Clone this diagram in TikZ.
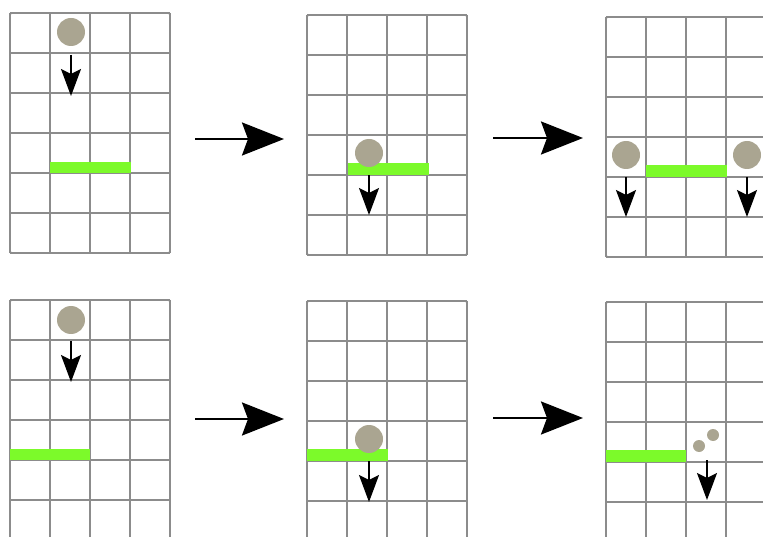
\documentclass[tikz,border=0pt]{standalone}
\usetikzlibrary{arrows.meta}
\definecolor{gridgray}{RGB}{140,140,140}
\definecolor{ballgray}{RGB}{170,165,145}
\definecolor{ledgegreen}{RGB}{124,250,42}
\begin{document}
\begin{tikzpicture}[
                x=1pt, y=-1pt,
                cell/.style={draw=gridgray, line width=1.6pt},
                ball/.style={circle, fill=ballgray, inner sep=0pt, minimum size=28pt},
                crumb/.style={circle, fill=ballgray, inner sep=0pt, minimum size=12pt},
                ledge/.style={fill=ledgegreen},
                fall/.style={-{Stealth[length=27pt, width=20pt, inset=5pt]}, line width=1.8pt},
                advance/.style={-{Stealth[length=42pt, width=33pt, inset=6pt]}, line width=2.5pt},
            ]
            \useasboundingbox (0,0) rectangle (763,537);
            \clip (0,0) rectangle (763,537);
            % the six boards
            \foreach \gx/\gy/\gn in {10/13/1, 307/15/2, 606/17/3, 10/300/4, 307/301/5, 606/302/6} {
                \begin{scope}[shift={(\gx,\gy)}]
                    \coordinate (g\gn) at (0,0);
                    \draw[cell] (0,0) grid[step=40pt] (160,240);
                    \draw[cell, rounded corners=2pt] (0,0) rectangle (160,240);
                \end{scope}
            }
            % top row
            \fill[ledge] ([shift={(40,149)}]g1) rectangle ([shift={(121,160)}]g1);
            \node[ball] (b1) at ([shift={(61,19)}]g1) {};
            \draw[fall] (b1.center) ++(0,23) -- ++(0,41);
            \fill[ledge] ([shift={(41,148)}]g2) rectangle ([shift={(122,160)}]g2);
            \node[ball] (b2) at ([shift={(62,138)}]g2) {};
            \draw[fall] (b2.center) ++(0,22) -- ++(0,40);
            \fill[ledge] ([shift={(40,148)}]g3) rectangle ([shift={(121,160)}]g3);
            \node[ball] (b3l) at ([shift={(20,138)}]g3) {};
            \node[ball] (b3r) at ([shift={(141,138)}]g3) {};
            \draw[fall] (b3l.center) ++(0,22) -- ++(0,40);
            \draw[fall] (b3r.center) ++(0,22) -- ++(0,40);
            % bottom row
            \fill[ledge] ([shift={(0,149)}]g4) rectangle ([shift={(80,160)}]g4);
            \node[ball] (b4) at ([shift={(61,20)}]g4) {};
            \draw[fall] (b4.center) ++(0,21) -- ++(0,41);
            \fill[ledge] ([shift={(0,148)}]g5) rectangle ([shift={(81,160)}]g5);
            \node[ball] (b5) at ([shift={(62,138)}]g5) {};
            \draw[fall] (b5.center) ++(0,22) -- ++(0,41);
            \fill[ledge] ([shift={(0,148)}]g6) rectangle ([shift={(80,160)}]g6);
            \node[crumb] (c1) at ([shift={(93,144)}]g6) {};
            \node[crumb] (c2) at ([shift={(107,133)}]g6) {};
            \coordinate (f6) at ([shift={(101,158)}]g6);
            \draw[fall] (f6) -- ++(0,40);
            % steps between boards
            \draw[advance] ([shift={(185,126)}]g1) -- ([shift={(-23,124)}]g2);
            \draw[advance] ([shift={(186,123)}]g2) -- ([shift={(-23,121)}]g3);
            \draw[advance] ([shift={(185,119)}]g4) -- ([shift={(-23,118)}]g5);
            \draw[advance] ([shift={(186,117)}]g5) -- ([shift={(-23,116)}]g6);
\end{tikzpicture}
\end{document}
